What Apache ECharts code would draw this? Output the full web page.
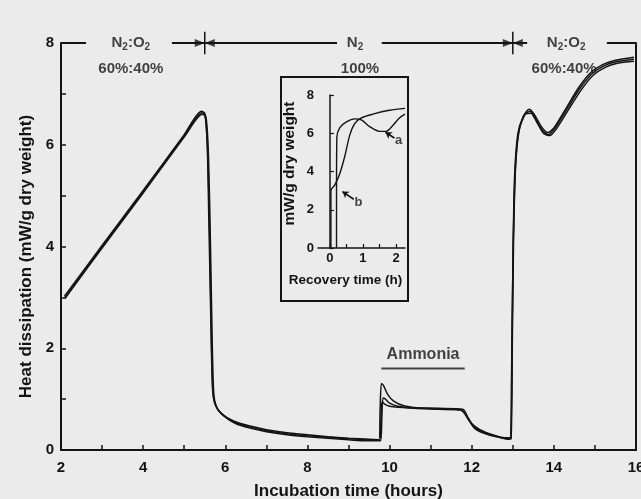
<!DOCTYPE html>
<html><head><meta charset="utf-8">
<script src="https://cdn.jsdelivr.net/npm/echarts@6/dist/echarts.min.js"></script>
<style>html,body{margin:0;padding:0;background:#ebebeb}#c{width:641px;height:499px}</style>
</head><body><div id="c"></div>
<script>
// ---------- data ----------
const xLabelTicks = [2, 4, 6, 8, 10, 12, 14, 16];
const yLabelTicks = [0, 2, 4, 6, 8];
const phaseBoundaries = [5.5, 13];
const phaseGas = ['N2:O2', 'N2', 'N2:O2'];
const phaseMix = ['60%:40%', '100%', '60%:40%'];
const ammoniaPeriod = [9.8, 11.83];
const ammoniaText = 'Ammonia';

const traceA = [[2.08,3.02],[3.0,4.02],[4.0,5.1],[5.0,6.2],[5.42,6.66],[5.5,6.62],[5.56,6.0],[5.6,4.5],[5.65,2.5],[5.69,1.2],[5.75,0.9],[5.9,0.72],[6.2,0.57],[6.6,0.47],[7.0,0.4],[7.5,0.34],[8.0,0.3],[8.5,0.26],[9.0,0.23],[9.5,0.21],[9.74,0.2],[9.77,0.8],[9.8,1.3],[9.85,1.27],[9.95,1.1],[10.1,0.96],[10.35,0.87],[10.8,0.82],[11.3,0.81],[11.72,0.79],[11.85,0.7],[12.0,0.52],[12.2,0.4],[12.5,0.3],[12.8,0.24],[12.93,0.24],[12.97,1.5],[13.0,3.5],[13.04,5.3],[13.12,6.2],[13.25,6.55],[13.4,6.7],[13.52,6.6],[13.7,6.35],[13.85,6.24],[14.0,6.33],[14.3,6.72],[14.6,7.12],[14.9,7.42],[15.2,7.58],[15.5,7.66],[15.95,7.72]];
const traceB = [[2.1,2.98],[3.0,3.97],[4.0,5.05],[5.0,6.15],[5.44,6.6],[5.53,6.55],[5.59,5.8],[5.64,4.0],[5.68,2.2],[5.72,1.1],[5.79,0.84],[5.95,0.68],[6.25,0.52],[6.6,0.43],[7.0,0.36],[7.5,0.3],[8.0,0.26],[8.5,0.23],[9.0,0.2],[9.5,0.18],[9.78,0.18],[9.81,0.6],[9.84,1.02],[9.9,1.0],[10.0,0.92],[10.2,0.86],[10.6,0.82],[11.2,0.8],[11.75,0.78],[11.9,0.62],[12.05,0.45],[12.3,0.35],[12.6,0.27],[12.9,0.21],[12.96,0.22],[12.99,2.2],[13.02,4.2],[13.07,5.6],[13.16,6.3],[13.3,6.6],[13.44,6.62],[13.58,6.45],[13.75,6.22],[13.9,6.18],[14.05,6.3],[14.35,6.68],[14.65,7.06],[14.95,7.36],[15.25,7.52],[15.55,7.6],[15.95,7.64]];
const traceC = [[2.1,3.0],[3.0,4.0],[4.0,5.08],[5.0,6.18],[5.43,6.63],[5.51,6.58],[5.57,5.9],[5.62,4.2],[5.66,2.3],[5.7,1.15],[5.77,0.87],[5.92,0.7],[6.22,0.55],[6.6,0.45],[7.0,0.38],[7.5,0.32],[8.0,0.28],[8.5,0.25],[9.0,0.22],[9.5,0.2],[9.76,0.19],[9.79,0.6],[9.82,0.95],[9.88,0.9],[10.0,0.86],[10.2,0.84],[10.6,0.83],[11.2,0.82],[11.78,0.8],[11.92,0.62],[12.08,0.42],[12.3,0.33],[12.6,0.26],[12.88,0.23],[12.95,0.23],[12.98,2.0],[13.01,4.0],[13.06,5.5],[13.14,6.25],[13.28,6.58],[13.42,6.66],[13.55,6.52],[13.72,6.28],[13.87,6.2],[14.02,6.32],[14.32,6.7],[14.62,7.09],[14.92,7.39],[15.22,7.55],[15.52,7.63],[15.95,7.68]];

const insetXLabels = [0, 1, 2];
const insetYLabels = [0, 2, 4, 6, 8];
const insetA = [[0.2,0],[0.2,3.0],[0.21,5.8],[0.3,6.3],[0.5,6.6],[0.75,6.75],[0.95,6.7],[1.2,6.35],[1.5,6.1],[1.7,6.1],[1.9,6.4],[2.1,6.8],[2.27,7.0]];
const insetB = [[0.03,0],[0.03,3.0],[0.15,3.3],[0.3,3.9],[0.45,4.8],[0.6,5.9],[0.75,6.5],[0.95,6.8],[1.3,7.0],[1.8,7.2],[2.27,7.3]];
const insetCurveNames = ['a', 'b'];

// ---------- layout ----------
const FONT = "'Liberation Sans', Arial, sans-serif";
const INK = '#141414';
const labelGaps = [[2.61, 4.70], [8.72, 9.81], [13.35, 15.29]];
const gasPos = [[3.70, 8.0], [9.16, 8.0], [14.30, 8.0]];
const mixPos = [[3.70, 7.5], [9.28, 7.49], [14.25, 7.5]];

function topSegments() {
  const segs = []; let start = 2;
  labelGaps.forEach(g => { segs.push([[start, 8], [g[0], 8]]); start = g[1]; });
  segs.push([[start, 8], [16, 8]]);
  return segs;
}
function gasRich(s) { return s.split('').map(ch => ch === '2' ? '{s|2}' : '{n|' + ch + '}').join(''); }
const series = [];
const traceStyle = { color: INK, width: 1.5 };
[traceA, traceB, traceC].forEach(t => series.push({
  type: 'line', xAxisIndex: 0, yAxisIndex: 0, data: t, showSymbol: false, smooth: 0.25,
  lineStyle: traceStyle, silent: true, clip: false
}));
topSegments().forEach(s => series.push({
  type: 'line', xAxisIndex: 0, yAxisIndex: 0, data: s, showSymbol: false,
  lineStyle: { color: INK, width: 2 }, clip: false, silent: true
}));
phaseBoundaries.forEach(b => {
  series.push({ type: 'line', xAxisIndex: 0, yAxisIndex: 0, data: [[b, 7.78], [b, 8.22]], showSymbol: false,
    lineStyle: { color: INK, width: 1.5 }, clip: false, silent: true });
  series.push({ type: 'scatter', xAxisIndex: 0, yAxisIndex: 0, clip: false, silent: true,
    data: [{ value: [b, 8], symbolRotate: -90, symbolOffset: [-5, 0] }, { value: [b, 8], symbolRotate: 90, symbolOffset: [5, 0] }],
    symbol: 'triangle', symbolSize: [8, 10], itemStyle: { color: INK } });
});
// phase labels
series.push({ type: 'scatter', xAxisIndex: 0, yAxisIndex: 0, clip: false, silent: true, symbolSize: 0,
  data: phaseGas.map((g, i) => ({ value: gasPos[i], name: g, label: { formatter: gasRich(g) } }))
    .concat(phaseMix.map((m, i) => ({ value: mixPos[i], name: m, label: { formatter: m } }))),
  label: { show: true, position: 'inside', color: INK, fontFamily: FONT, fontWeight: 'bold', fontSize: 15,
    rich: { n: { fontFamily: FONT, fontWeight: 'bold', fontSize: 15, color: INK },
            s: { fontFamily: FONT, fontWeight: 'bold', fontSize: 10, color: INK, padding: [9, 0, 0, 0] } } } });
// ammonia bar
series.push({ type: 'line', xAxisIndex: 0, yAxisIndex: 0, data: [[ammoniaPeriod[0], 1.6], [ammoniaPeriod[1], 1.6]], showSymbol: false,
  lineStyle: { color: '#444', width: 2 }, silent: true });
series.push({ type: 'scatter', xAxisIndex: 0, yAxisIndex: 0, symbolSize: 0, silent: true,
  data: [{ value: [(ammoniaPeriod[0] + ammoniaPeriod[1]) / 2, 1.87], name: ammoniaText }],
  label: { show: true, position: 'inside', formatter: p => p.name, color: INK, fontFamily: FONT, fontWeight: 'bold', fontSize: 16 } });
// inset curves
[insetA, insetB].forEach(t => series.push({ type: 'line', xAxisIndex: 1, yAxisIndex: 2, data: t, showSymbol: false, smooth: 0.3,
  lineStyle: { color: INK, width: 1.4 }, silent: true }));
// inset curve labels with arrows
series.push({ type: 'scatter', xAxisIndex: 1, yAxisIndex: 2, symbolSize: 0, silent: true,
  data: [{ value: [2.08, 5.6], name: insetCurveNames[0] }, { value: [0.86, 2.4], name: insetCurveNames[1] }],
  label: { show: true, position: 'inside', formatter: p => p.name, color: INK, fontFamily: FONT, fontWeight: 'bold', fontSize: 13 },
  markLine: { silent: true, symbol: ['arrow', 'none'], symbolSize: 6, label: { show: false },
    lineStyle: { color: INK, width: 1.6, type: 'solid' },
    data: [[{ coord: [1.68, 6.05] }, { coord: [1.95, 5.75] }], [{ coord: [0.38, 2.95] }, { coord: [0.72, 2.55] }]] } });

const axisTxt = { color: INK, fontFamily: FONT, fontWeight: 'bold' };
const option = {
  backgroundColor: '#ebebeb',
  animation: false,
  grid: [
    { left: 61, right: 5, top: 43, bottom: 49, outerBoundsMode: 'none', containLabel: false },
    { left: 318, top: 95, width: 87, height: 153, outerBoundsMode: 'none', containLabel: false }
  ],
  xAxis: [
    { gridIndex: 0, type: 'value', min: 2, max: 16, interval: 1,
      axisLine: { lineStyle: { color: INK, width: 2 } },
      axisTick: { inside: true, length: 5, lineStyle: { color: INK, width: 1.5 } },
      splitLine: { show: false },
      axisLabel: { ...axisTxt, fontSize: 15, margin: 10, formatter: v => xLabelTicks.includes(v) ? String(v) : '' },
      name: 'Incubation time (hours)', nameLocation: 'middle', nameGap: 33,
      nameTextStyle: { ...axisTxt, fontSize: 17 } },
    { gridIndex: 1, type: 'value', min: -0.36, max: 2.27,
      axisLine: { lineStyle: { color: INK, width: 1.5 } },
      axisTick: { inside: true, length: 4, customValues: [0, 0.5, 1, 1.5, 2], lineStyle: { color: INK, width: 1.2 } },
      splitLine: { show: false },
      axisLabel: { ...axisTxt, fontSize: 13, margin: 4, customValues: insetXLabels },
      name: 'Recovery time (h)', nameLocation: 'middle', nameGap: 25,
      nameTextStyle: { ...axisTxt, fontSize: 13.5, padding: [0, 32, 0, 0] } }
  ],
  yAxis: [
    { gridIndex: 0, type: 'value', min: 0, max: 8, interval: 1,
      axisLine: { lineStyle: { color: INK, width: 2 } },
      axisTick: { inside: true, length: 5, lineStyle: { color: INK, width: 1.5 } },
      splitLine: { show: false },
      axisLabel: { ...axisTxt, fontSize: 15, margin: 7, formatter: v => yLabelTicks.includes(v) ? String(v) : '' },
      name: 'Heat dissipation (mW/g dry weight)', nameLocation: 'middle', nameGap: 26,
      nameTextStyle: { ...axisTxt, fontSize: 17, padding: [0, 20, 0, 0] } },
    { gridIndex: 0, type: 'value', min: 0, max: 8, position: 'right',
      axisLine: { show: true, lineStyle: { color: INK, width: 2 } },
      axisTick: { show: false }, axisLabel: { show: false }, splitLine: { show: false } },
    { gridIndex: 1, type: 'value', min: 0, max: 8, interval: 2,
      axisLine: { lineStyle: { color: INK, width: 1.5 } },
      axisTick: { inside: true, length: 4, lineStyle: { color: INK, width: 1.2 } },
      splitLine: { show: false },
      axisLabel: { ...axisTxt, fontSize: 13, margin: 4 },
      name: 'mW/g dry weight', nameLocation: 'middle', nameGap: 20,
      nameTextStyle: { ...axisTxt, fontSize: 15.5, padding: [0, 0, 0, 16] } }
  ],
  graphic: [
    { type: 'rect', shape: { x: 281, y: 77, width: 127, height: 224 }, style: { fill: 'none', stroke: INK, lineWidth: 2 }, z: 10 }
  ],
  series
};
const chart = echarts.init(document.getElementById('c'), null, { renderer: 'canvas' });
chart.setOption(option);
</script></body></html>
